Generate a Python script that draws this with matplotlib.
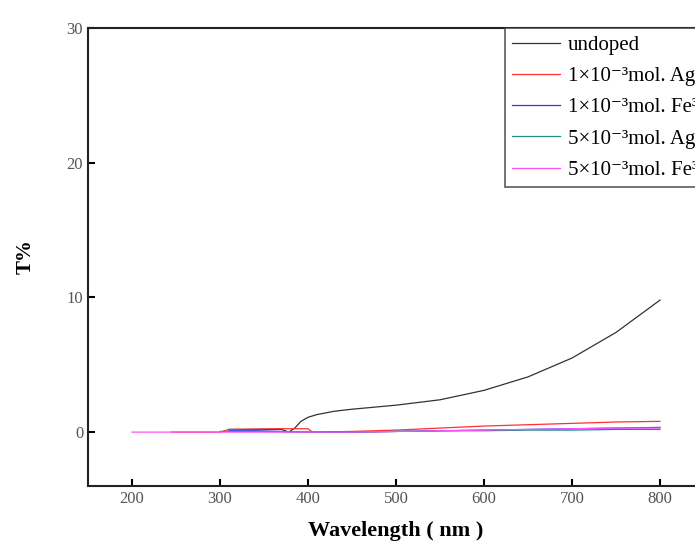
import matplotlib.pyplot as plt

plt.rcParams['font.family'] = ['Liberation Serif', 'DejaVu Serif']

# readings from the reference chart
wl_undoped = [310, 340, 370, 378, 385, 392, 400, 410, 430, 450, 500, 550, 600, 650, 700, 750, 800]
t_undoped = [0.2, 0.2, 0.2, 0.0, 0.3, 0.8, 1.1, 1.3, 1.55, 1.7, 2.0, 2.4, 3.1, 4.1, 5.5, 7.4, 9.8]

wl_ag1 = [245, 300, 310, 360, 400, 405, 450, 500, 550, 600, 650, 700, 750, 800]
t_ag1 = [0.0, 0.0, 0.2, 0.25, 0.25, 0.0, 0.05, 0.15, 0.3, 0.45, 0.55, 0.65, 0.75, 0.8]

wl_fe1 = [310, 340, 400, 450, 500, 550, 600, 650, 700, 750, 800]
t_fe1 = [0.1, 0.1, 0.0, 0.0, 0.05, 0.1, 0.15, 0.2, 0.25, 0.3, 0.35]

wl_ag5 = [300, 350, 400, 450, 500, 550, 600, 650, 700, 750, 800]
t_ag5 = [0.05, 0.05, 0.0, 0.0, 0.05, 0.1, 0.1, 0.15, 0.15, 0.2, 0.2]

wl_fe5 = [200, 250, 300, 350, 400, 450, 500, 550, 600, 650, 700, 750, 800]
t_fe5 = [0.0, 0.0, 0.0, 0.0, 0.0, 0.0, 0.05, 0.1, 0.15, 0.2, 0.25, 0.3, 0.3]

labels = ['undoped',
          '1×10⁻³mol. Ag⁺',
          '1×10⁻³mol. Fe³⁺',
          '5×10⁻³mol. Ag⁺',
          '5×10⁻³mol. Fe³⁺']

fig = plt.figure(figsize=(6.95, 5.52), dpi=100)
ax = fig.add_axes([88 / 695, 66 / 552, 616 / 695, 458 / 552])

ax.plot(wl_undoped, t_undoped, color='#333333', lw=0.9, label=labels[0])
ax.plot(wl_ag1, t_ag1, color='#ff3030', lw=0.9, label=labels[1])
ax.plot(wl_fe1, t_fe1, color='#3030ff', lw=0.9, label=labels[2])
ax.plot(wl_ag5, t_ag5, color='#1a9080', lw=0.9, label=labels[3])
ax.plot(wl_fe5, t_fe5, color='#ff50ff', lw=0.9, label=labels[4])

ax.set_xlim(150, 850)
ax.set_ylim(-4, 30)
ax.set_xticks([200, 300, 400, 500, 600, 700, 800])
ax.set_yticks([0, 10, 20, 30])
ax.tick_params(direction='in', length=5, width=1.5, labelsize=12, labelcolor='#555555')
for s in ax.spines.values():
    s.set_linewidth(1.5)
    s.set_color('#222222')

ax.set_xlabel('Wavelength ( nm )', fontsize=16, fontweight='bold', labelpad=10)
ax.set_ylabel('T%', fontsize=15, fontweight='bold', labelpad=22)

leg = ax.legend(loc='upper left', bbox_to_anchor=(505 / 695, 524 / 552),
                bbox_transform=fig.transFigure, fontsize=15, frameon=True,
                fancybox=False, borderaxespad=0, handlelength=2.3,
                labelspacing=0.56, handletextpad=0.35, borderpad=0.35)
leg.get_frame().set_edgecolor('#333333')
leg.get_frame().set_linewidth(1.2)

fig.savefig('out.png', dpi=100)
